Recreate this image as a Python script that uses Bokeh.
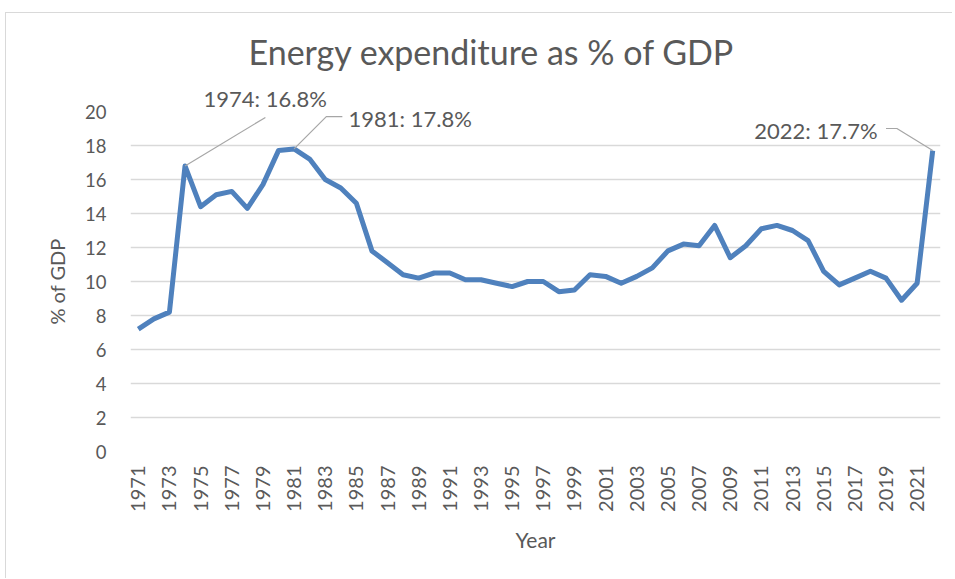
from bokeh.plotting import figure
from bokeh.models import Range1d, FixedTicker, Label, Title
from bokeh.embed import file_html
from bokeh.resources import INLINE
import math

years = list(range(1971, 2023))
pct_gdp = [7.2, 7.8, 8.2, 16.8, 14.4, 15.1, 15.3, 14.3, 15.7, 17.7,
           17.8, 17.2, 16.0, 15.5, 14.6, 11.8, 11.1, 10.4, 10.2, 10.5,
           10.5, 10.1, 10.1, 9.9, 9.7, 10.0, 10.0, 9.4, 9.5, 10.4,
           10.3, 9.9, 10.3, 10.8, 11.8, 12.2, 12.1, 13.3, 11.4, 12.1,
           13.1, 13.3, 13.0, 12.4, 10.6, 9.8, 10.2, 10.6, 10.2, 8.9,
           9.9, 17.7]
x_ticks = list(range(1971, 2022, 2))
y_ticks = list(range(0, 21, 2))

ann_years = [1974, 1981, 2022]
ann_texts = ["1974: 16.8%", "1981: 17.8%", "2022: 17.7%"]

FONT = "Lato"
GREY = "#595959"
W, H = 947, 566

p = figure(width=W, height=H, output_backend="svg", toolbar_location=None,
           x_range=Range1d(1970.5, 2022.5), y_range=Range1d(0, 20),
           min_border_left=124, min_border_right=13, min_border_top=98,
           min_border_bottom=128)
p.styles = {"margin-left": "5px", "margin-top": "12px",
            "border-left": "1px solid #d9d9d9", "border-top": "1px solid #d9d9d9"}
p.outline_line_color = None
p.background_fill_color = "white"
p.border_fill_color = "white"

p.title.text = "Energy expenditure as % of GDP"
p.title.align = "left"
p.title.offset = 118
p.title.text_font = FONT
p.title.text_font_size = "34px"
p.title.text_font_style = "normal"
p.title.text_color = GREY
p.title.standoff = 21

p.xgrid.grid_line_color = None
p.ygrid.grid_line_color = "#d9d9d9"
p.ygrid.grid_line_width = 1.5

p.yaxis.ticker = FixedTicker(ticks=y_ticks)
p.xaxis.ticker = FixedTicker(ticks=x_ticks)
p.xaxis.major_label_orientation = math.pi / 2
for ax in (p.xaxis, p.yaxis):
    ax.axis_line_color = None
    ax.major_tick_line_color = None
    ax.minor_tick_line_color = None
    ax.major_label_text_font = FONT
    ax.major_label_text_color = GREY
    ax.axis_label_text_font = FONT
    ax.axis_label_text_color = GREY
    ax.axis_label_text_font_style = "normal"
p.xaxis.major_label_text_font_size = "20px"
p.yaxis.major_label_text_font_size = "18.5px"
p.xaxis.axis_label_text_font_size = "21px"
p.yaxis.axis_label_text_font_size = "20px"
p.xaxis.axis_label = "Year"
p.yaxis.axis_label = "% of GDP"
p.yaxis.major_label_standoff = 18
p.xaxis.major_label_standoff = 8
p.yaxis.axis_label_standoff = 13
p.xaxis.axis_label_standoff = 12

p.line(years, pct_gdp, line_color="#4f81bd", line_width=5, line_join="round")

vals = dict(zip(years, pct_gdp))
LEAD = "#a6a6a6"
y0 = ann_years[0]
p.line([y0, 1979.16], [vals[y0], 19.65], line_color=LEAD, line_width=1.2)
p.add_layout(Title(text=ann_texts[0], align="left", offset=73, standoff=0,
                   text_font=FONT, text_font_size="22px", text_font_style="normal",
                   text_color=GREY), "above")
y1 = ann_years[1]
p.line([y1, 1983.07, 1984.1], [vals[y1], 19.7, 19.7], line_color=LEAD, line_width=1.2)
p.add_layout(Label(x=1984.5, y=19.6, text=ann_texts[1], text_font=FONT,
                   text_font_size="22px", text_color=GREY, text_align="left",
                   text_baseline="middle"))
y2 = ann_years[2]
p.line([y2, 2019.7, 2019.0], [vals[y2], 19.0, 19.0], line_color=LEAD, line_width=1.2)
p.add_layout(Label(x=2018.46, y=18.88, text=ann_texts[2], text_font=FONT,
                   text_font_size="22px", text_color=GREY, text_align="right",
                   text_baseline="middle"))

open("out.html", "w").write(file_html(p, INLINE))
